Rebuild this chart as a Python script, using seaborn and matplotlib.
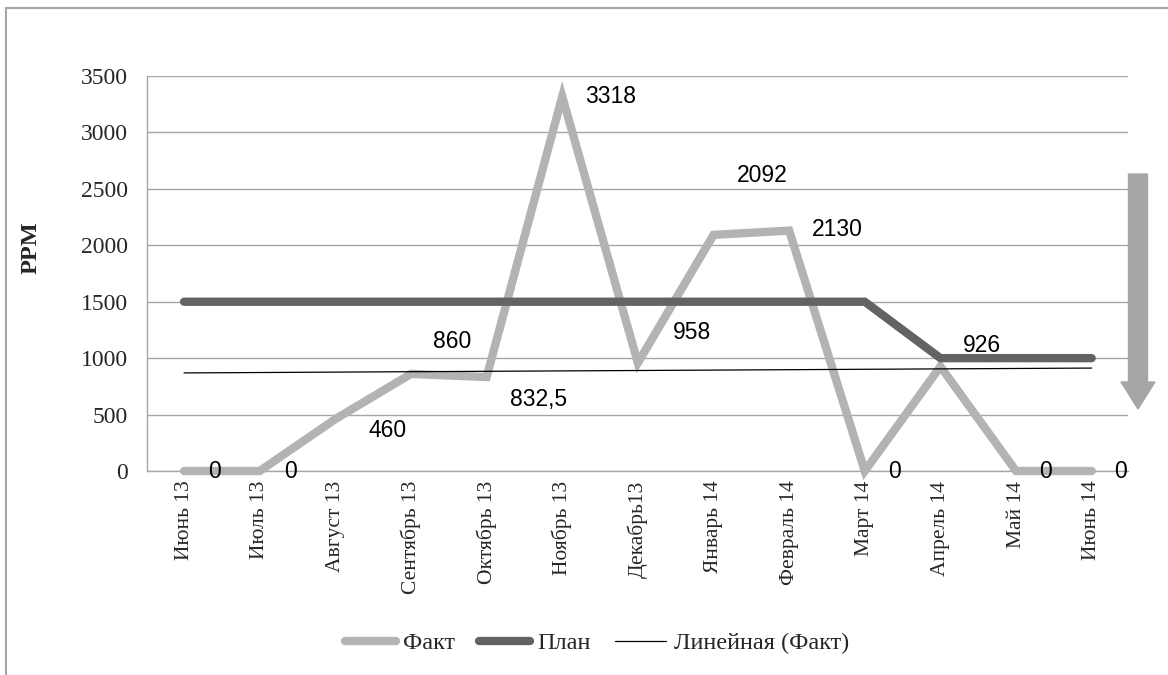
from __future__ import annotations

import matplotlib

matplotlib.use("Agg")

import matplotlib.pyplot as plt
import numpy as np
import pandas as pd
import seaborn as sns
from matplotlib.lines import Line2D
from matplotlib.patches import FancyArrow


MONTHS = [
    "Июнь 13", "Июль 13", "Август 13", "Сентябрь 13", "Октябрь 13", "Ноябрь 13",
    "Декабрь13", "Январь 14", "Февраль 14", "Март 14", "Апрель 14", "Май 14", "Июнь 14",
]
FACT = [0, 0, 460, 860, 832.5, 3318, 958, 2092, 2130, 0, 926, 0, 0]
PLAN = [1500, 1500, 1500, 1500, 1500, 1500, 1500, 1500, 1500, 1500, 1000, 1000, 1000]
Y_TICKS = [0, 500, 1000, 1500, 2000, 2500, 3000, 3500]

# label offsets in pixels (dx, dy) from each Fact point
LABEL_OFFSETS = [
    (24, 0), (24, 0), (33, -11), (22, 32), (23, -22), (23, 0), (35, 30),
    (23, 59), (23, 1), (23, 0), (22, 21), (23, 0), (22, 0),
]

FACT_COLOR = "#b3b3b3"
PLAN_COLOR = "#636363"
GRID_COLOR = "#a6a6a6"
W, H = 1168, 675


def setup_theme() -> None:
    sns.set_theme(style="white")
    plt.rcParams["font.family"] = ["Liberation Serif", "DejaVu Serif"]
    plt.rcParams["figure.facecolor"] = "white"
    plt.rcParams["axes.facecolor"] = "white"


def main() -> None:
    setup_theme()
    idx = np.arange(len(MONTHS))
    slope, intercept = np.polyfit(idx, FACT, 1)
    df = pd.DataFrame({"idx": idx, "fact": FACT, "plan": PLAN, "trend": intercept + slope * idx})

    fig = plt.figure(figsize=(W / 100, H / 100), dpi=100)
    ax = fig.add_axes([147 / W, 1 - 471 / H, (1128 - 147) / W, (471 - 76) / H])

    sns.lineplot(data=df, x="idx", y="fact", ax=ax, color=FACT_COLOR, linewidth=6,
                 label="Факт", solid_capstyle="round", solid_joinstyle="miter", clip_on=False, zorder=3)
    sns.lineplot(data=df, x="idx", y="plan", ax=ax, color=PLAN_COLOR, linewidth=6,
                 label="План", solid_capstyle="round", solid_joinstyle="miter", clip_on=False, zorder=4)
    sns.lineplot(data=df, x="idx", y="trend", ax=ax, color="black", linewidth=0.9,
                 label="Линейная (Факт)", zorder=5)

    for i, v in enumerate(FACT):
        txt = f"{v:g}".replace(".", ",")
        ax.annotate(txt, (i, v), xytext=LABEL_OFFSETS[i], textcoords="offset pixels",
                    ha="left", va="center", fontsize=16.5, family="Liberation Sans",
                    color="black", zorder=6, annotation_clip=False)

    ax.set_xlim(-0.49, 12.48)
    ax.set_ylim(0, 3500)
    ax.set_yticks(Y_TICKS)
    ax.set_xticks(idx)
    ax.set_xticklabels(MONTHS, rotation=90, fontsize=15.5)
    ax.tick_params(axis="y", labelsize=17, length=0, pad=14)
    ax.tick_params(axis="x", length=0, pad=7)
    ax.set_xlabel("")
    ax.set_ylabel("")
    fig.text(31 / W, 1 - 248 / H, "PPM", rotation=90, ha="center", va="center",
             fontsize=17.5, fontweight="bold")

    ax.grid(axis="y", color=GRID_COLOR, linewidth=1)
    ax.grid(axis="x", visible=False)
    for side in ["top", "right"]:
        ax.spines[side].set_visible(False)
    for side in ["left", "bottom"]:
        ax.spines[side].set_color(GRID_COLOR)
        ax.spines[side].set_linewidth(1)

    ax.legend(loc="center", bbox_to_anchor=(0.511, 0.047), bbox_transform=fig.transFigure,
              ncol=3, frameon=False, fontsize=17.5, handlelength=2.1, handletextpad=0.3,
              columnspacing=1.0)

    # down arrow on the right
    arrow = FancyArrow(11.38, 5.01, 0, -2.35, width=0.19, head_width=0.34, head_length=0.27,
                       length_includes_head=True, color="#a6a6a6", transform=fig.dpi_scale_trans)
    fig.add_artist(arrow)

    # outer chart border
    fig.add_artist(Line2D([6 / W, 1], [1 - 8 / H, 1 - 8 / H], color=GRID_COLOR, linewidth=1.5))
    fig.add_artist(Line2D([6 / W, 6 / W], [0, 1 - 8 / H], color=GRID_COLOR, linewidth=1.5))

    fig.savefig("out.png", dpi=100)
    plt.close(fig)


if __name__ == "__main__":
    main()
